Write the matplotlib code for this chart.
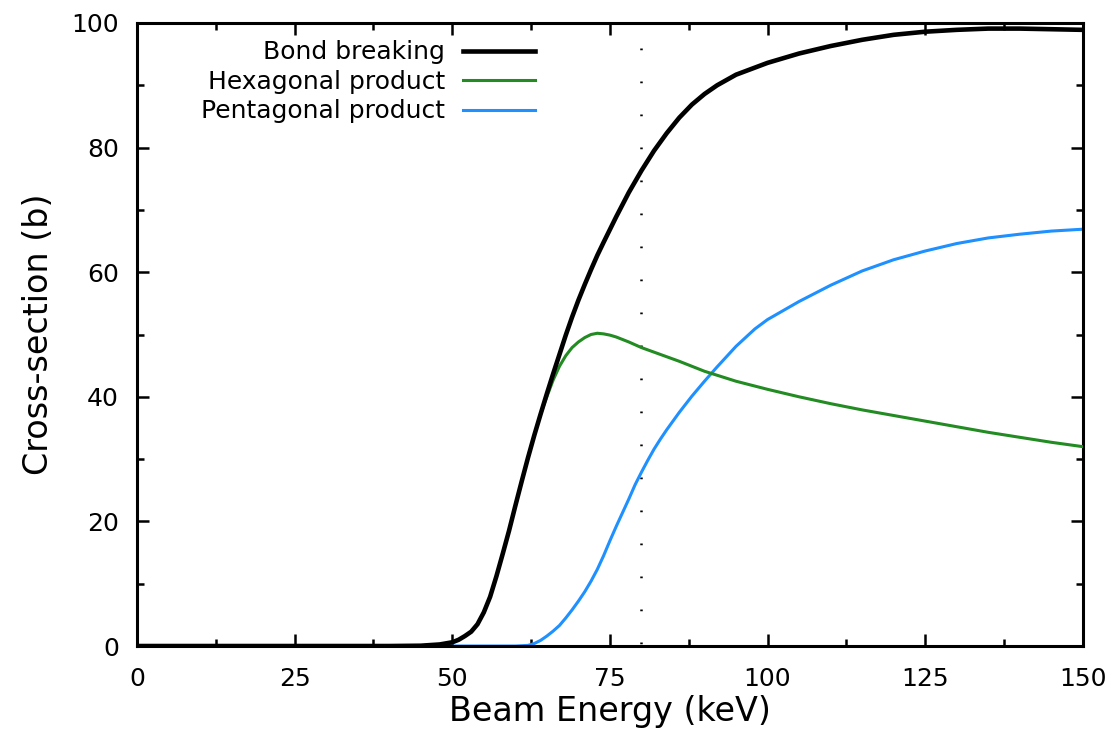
import matplotlib

matplotlib.use('Agg')
import matplotlib.pyplot as plt
from matplotlib.ticker import MultipleLocator

# Bond breaking cross-section (black)
bond_e = [0, 40, 45, 48, 50, 51, 52, 53, 54, 55, 56, 57, 58, 59, 60, 61, 62, 63, 64, 65,
          66, 67, 68, 69, 70, 71, 72, 73, 74, 76, 78, 80, 82, 84, 86, 88, 90, 92, 95, 100,
          105, 110, 115, 120, 125, 130, 135, 140, 145, 150]
bond_v = [0, 0, 0.05, 0.25, 0.6, 1.0, 1.6, 2.3, 3.5, 5.4, 7.9, 11.2, 14.8, 18.5, 22.5, 26.4,
          30.2, 33.8, 37.2, 40.5, 43.7, 46.8, 49.9, 52.8, 55.5, 58.0, 60.4, 62.7, 64.8, 68.9,
          72.8, 76.3, 79.5, 82.3, 84.8, 86.9, 88.6, 90.0, 91.7, 93.6, 95.1, 96.3, 97.3, 98.1,
          98.6, 98.9, 99.1, 99.1, 99.0, 98.9]

# Hexagonal product (green) - follows bond breaking at low energy
hex_e = [0, 40, 45, 48, 50, 51, 52, 53, 54, 55, 56, 57, 58, 59, 60, 61, 62, 63, 64, 65, 66,
         67, 68, 69, 70, 71, 72, 73, 74, 75, 76, 78, 80, 83, 86, 90, 95, 100, 105, 110, 115,
         120, 125, 130, 135, 140, 145, 150]
hex_v = [0, 0, 0.05, 0.25, 0.6, 1.0, 1.6, 2.3, 3.5, 5.4, 7.9, 11.2, 14.8, 18.5, 22.5, 26.4,
         30.2, 33.8, 37.2, 40.0, 42.7, 44.9, 46.6, 47.9, 48.8, 49.5, 50.0, 50.2, 50.1, 49.9,
         49.6, 48.8, 47.9, 46.8, 45.7, 44.1, 42.5, 41.2, 40, 38.9, 37.9, 37, 36.1, 35.2,
         34.3, 33.5, 32.7, 32]

# Pentagonal product (blue)
pent_e = [0, 60, 62, 63, 64, 65, 66, 67, 68, 69, 70, 71, 72, 73, 74, 75, 76, 77, 78, 79, 80,
          81, 82, 83, 84, 86, 88, 90, 92, 95, 98, 100, 105, 110, 115, 120, 125, 130, 135,
          140, 145, 150]
pent_v = [0, 0, 0.1, 0.4, 0.9, 1.6, 2.4, 3.3, 4.5, 5.8, 7.2, 8.7, 10.4, 12.3, 14.5, 16.9,
          19.2, 21.4, 23.6, 25.9, 27.9, 29.8, 31.6, 33.2, 34.7, 37.5, 40.1, 42.5, 44.8, 48.1,
          50.9, 52.4, 55.3, 57.9, 60.2, 62, 63.4, 64.6, 65.5, 66.1, 66.6, 66.9]

marker_e = 80

fig = plt.figure(figsize=(11.14, 7.44), dpi=100)
ax = fig.add_axes([0.123, 0.1317, 0.849, 0.8374])

ax.plot([marker_e, marker_e], [96, 0], color='black', lw=1.8,
        linestyle=(0, (0.7, 12.5)), zorder=1)
ax.plot(pent_e, pent_v, color='#1e90ff', lw=2.2, label='Pentagonal product', zorder=2)
ax.plot(hex_e, hex_v, color='#228b22', lw=2.2, label='Hexagonal product', zorder=3)
ax.plot(bond_e, bond_v, color='black', lw=3.3, label='Bond breaking', zorder=4)

ax.set_xlim(0, 150)
ax.set_ylim(0, 100)
ax.xaxis.set_major_locator(MultipleLocator(25))
ax.xaxis.set_minor_locator(MultipleLocator(12.5))
ax.yaxis.set_major_locator(MultipleLocator(20))
ax.yaxis.set_minor_locator(MultipleLocator(10))
ax.tick_params(which='both', direction='in', top=True, right=True, width=1.8)
ax.tick_params(which='major', length=8.5, labelsize=18)
ax.tick_params(which='minor', length=5)
ax.tick_params(axis='x', which='major', pad=15)
ax.tick_params(axis='y', which='major', pad=13)
for s in ax.spines.values():
    s.set_linewidth(2.2)

ax.set_xlabel('Beam Energy (keV)', fontsize=24, labelpad=3)
ax.set_ylabel('Cross-section (b)', fontsize=24, labelpad=12)

h, l = ax.get_legend_handles_labels()
ax.legend(h[::-1], l[::-1], loc='upper right', bbox_to_anchor=(0.421, 0.972),
          frameon=False, markerfirst=False, fontsize=18, handlelength=2.9,
          handletextpad=0.7, labelspacing=0.22, borderpad=0, borderaxespad=0)

plt.savefig('out.png')
